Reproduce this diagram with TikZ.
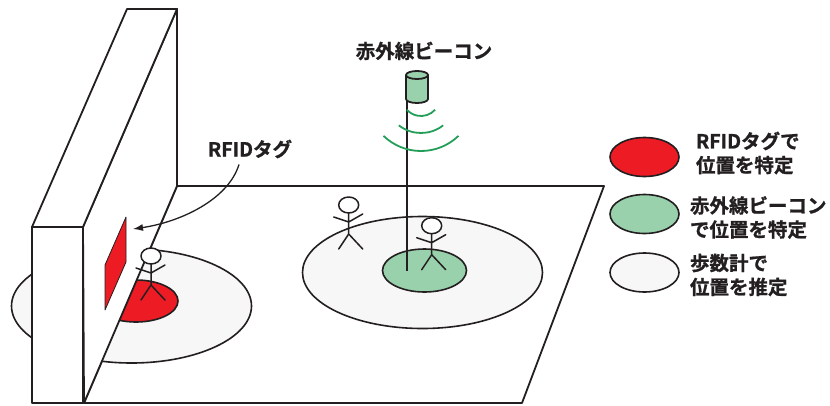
\documentclass[tikz,border=0pt]{standalone}
\usepackage{fontspec}
\setmainfont{Noto Sans CJK JP}[BoldFont={Noto Sans CJK JP Bold}, BoldFeatures={FakeBold=1}]
\usetikzlibrary{shapes.geometric,positioning,arrows.meta}

\definecolor{tagred}{RGB}{237,28,36}
\definecolor{irgreen}{RGB}{153,209,172}
\definecolor{wavegreen}{RGB}{35,158,88}
\definecolor{stepgrey}{RGB}{247,247,247}
\definecolor{ink}{RGB}{35,31,32}

\begin{document}
\begin{tikzpicture}[x=1pt,y=-1pt]
		\tikzstyle{outline}=[draw=ink, line width=1.8pt, line join=round]
		\tikzstyle{zone}=[outline, line width=1.6pt]
		\tikzstyle{stick}=[outline, line width=1.5pt, line cap=round]
		\tikzstyle{keymark}=[ellipse, draw=ink, line width=1.6pt, minimum width=69pt, minimum height=39pt, inner sep=0pt]
		\tikzstyle{keytext}=[align=left, inner sep=0pt, text=ink, font=\fontsize{19.5}{24}\selectfont\bfseries]
		\tikzstyle{heading}=[inner sep=0pt, text=ink, font=\fontsize{19.5}{24}\selectfont\bfseries]
		\useasboundingbox (0,0) rectangle (830,405);
		
		% floor
		\draw[outline, fill=white] (177,186) -- (604,186) -- (522,403) -- (84,403) -- cycle;
		
		% walking areas and the spots fixed by tag / beacon
		\draw[zone, fill=stepgrey] (131.5,306) ellipse [x radius=120, y radius=57];
		\draw[zone, fill=tagred]   (136,301) ellipse [x radius=42, y radius=21];
		\draw[zone, fill=stepgrey] (422.5,272.5) ellipse [x radius=120, y radius=56];
		\draw[zone, fill=irgreen]  (424.5,270.5) ellipse [x radius=42, y radius=21.5];
		
		% beacon on its pole
		\draw[outline] (407,271) -- (407,99);
		\draw[outline, fill=irgreen] (406,75) -- (406,99) arc[start angle=180, end angle=0, x radius=11, y radius=4] -- (428,75);
		\draw[outline, fill=irgreen] (417,75) ellipse [x radius=11, y radius=4];
		\foreach \r/\a in {19/48, 36/38, 54/44}
			\draw[wavegreen, line width=1.8pt] ([shift={(90-\a:\r)}]421,97) arc[start angle=90-\a, end angle=90+\a, radius=\r];
		
		% wall
		\draw[outline, fill=white] (83,227) -- (177,9) -- (177,186) -- (84,403) -- cycle;
		\draw[outline, fill=white] (32,227) -- (127,9) -- (177,9) -- (83,227) -- cycle;
		\draw[outline, fill=white] (32,227) rectangle (83,403);
		\draw[fill=tagred, draw=ink, line width=0.8pt, line join=round] (126,217) -- (126,262) -- (105,310) -- (105,265) -- cycle;
		
		% people
		\foreach \hx/\hy in {348.7/205, 431.7/225.7, 151/256}
		{
			\draw[stick] (\hx,\hy+8) -- (\hx,\hy+29)
				(\hx-15,\hy+12) -- (\hx,\hy+17) -- (\hx+14,\hy+9)
				(\hx-10,\hy+44) -- (\hx,\hy+29) -- (\hx+14,\hy+44);
			\draw[stick, fill=white] (\hx,\hy) ellipse [x radius=10, y radius=8];
		}
		
		% labels
		\node[heading] (beaconlabel) at (424,51) {赤外線ビーコン};
		\node[heading] (rfidlabel) at (250,149) {RFIDタグ};
		\coordinate (tagpoint) at (133,229);
		\draw[ink, line width=1.3pt, -{Latex[length=10pt,width=7pt]}]
			([xshift=-11pt, yshift=-6pt]rfidlabel.south) .. controls (228,200) and (180,222) .. (tagpoint);
		
		% legend
		\node[keymark, fill=tagred]   (keyrfid)   at (644.5,157)   {};
		\node[keymark, fill=irgreen]  (keybeacon) at (644.5,214)   {};
		\node[keymark, fill=stepgrey] (keystep)   at (644.5,272.5) {};
		\node[keytext, right=16pt of keyrfid, yshift=4pt]      (txtrfid)   {RFIDタグで\\位置を特定};
		\node[keytext, right=10pt of keybeacon, yshift=-3.5pt] (txtbeacon) {赤外線ビーコン\\で位置を特定};
		\node[keytext, right=10pt of keystep, yshift=-2.5pt]   (txtstep)   {歩数計で\\位置を推定};
		
\end{tikzpicture}
\end{document}
